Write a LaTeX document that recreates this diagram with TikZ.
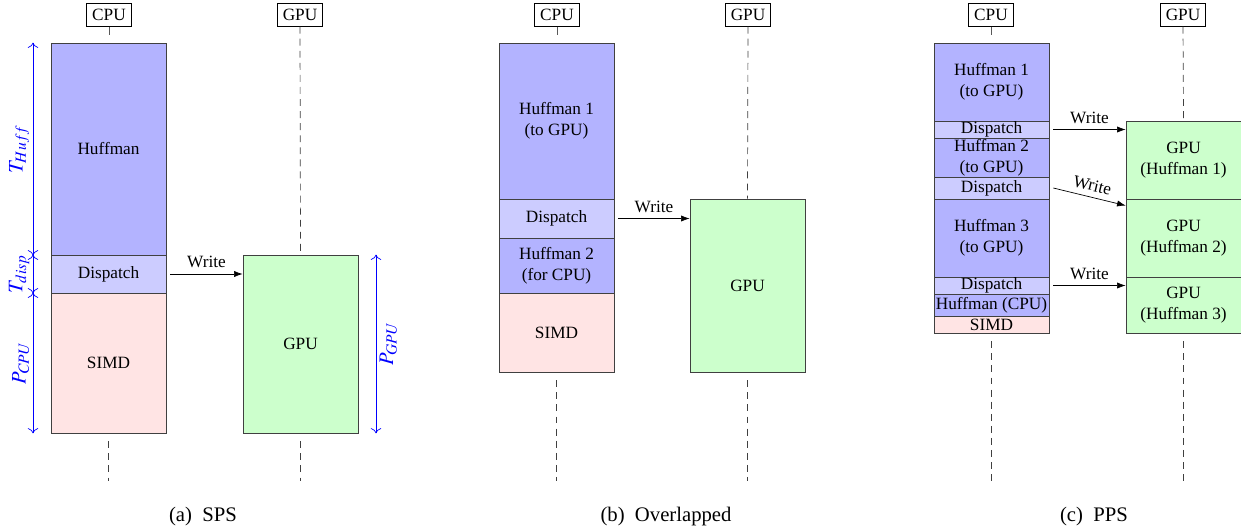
\documentclass[tikz,border=0pt]{standalone}
\usepackage{mathptmx}
\usepackage{fontspec}
\setmainfont{Liberation Serif}
\usepackage{tikz}
\usepackage{xcolor}
\usetikzlibrary{arrows.meta}

\definecolor{huffblue}{RGB}{179,179,255}
\definecolor{dispblue}{RGB}{204,204,255}
\definecolor{simdpink}{RGB}{255,228,228}
\definecolor{gpugreen}{RGB}{204,255,204}

\tikzset{
  hdr/.style={draw,inner sep=3.2pt},
  blk/.style={draw=black!75,minimum width=66.7pt,inner sep=0pt,align=center},
  hgt/.style={minimum height=#1*0.58pt},
  huff/.style={blk,fill=huffblue},
  disp/.style={blk,fill=dispblue},
  simd/.style={blk,fill=simdpink},
  gpu/.style={blk,fill=gpugreen},
  tick/.style={black!65},
  life/.style={black!75,dash pattern=on 4pt off 3pt},
  wr/.style={-{Latex[length=5pt,width=3.6pt]}},
  dim/.style={{To[length=3pt,width=6pt]}-{To[length=3pt,width=6pt]},blue},
  dimlbl/.style={midway,sloped,blue,font=\large,inner sep=2pt},
  capt/.style={font=\large}
}

\begin{document}
\begin{tikzpicture}[x=0.58pt,y=-0.58pt]
\useasboundingbox (0,0) rectangle (1241,531);

% (a) SPS
\node[hdr] (cpuA) at (109,15) {CPU};
\node[hdr] (gpuhA) at (300,15) {GPU};
\node[huff,hgt=212] (hufA) at (108.5,149) {Huffman};
\node[disp,hgt=38] (dispA) at (108.5,274) {Dispatch};
\node[simd,hgt=140] (simdA) at (108.5,363) {SIMD};
\node[gpu,hgt=178] (gpuA) at (300.5,344) {GPU};
\draw[tick] (cpuA.south) -- ++(0,8);
\draw[life] (simdA.south) ++(0,8) -- ++(0,40);
\draw[life] (gpuhA.south) -- (gpuA.north);
\draw[life] (gpuA.south) ++(0,8) -- ++(0,40);
\draw[wr] ([xshift=2.3pt]dispA.east) -- (dispA.east -| gpuA.west) node[midway,above] {Write};
\coordinate (dimL) at (33,0);
\coordinate (dimR) at (376,0);
\draw[dim] (dimL |- hufA.south) -- (dimL |- hufA.north) node[dimlbl,above] {$T_{Huff}$};
\draw[dim] (dimL |- dispA.south) -- (dimL |- dispA.north) node[dimlbl,above] {$T_{disp}$};
\draw[dim] (dimL |- simdA.south) -- (dimL |- simdA.north) node[dimlbl,above] {$P_{CPU}$};
\draw[dim] (dimR |- gpuA.south) -- (dimR |- gpuA.north) node[dimlbl,below] {$P_{GPU}$};
\node[capt] (capA) at (203,517) {(a)\enspace SPS};

% (b) Overlapped
\node[hdr] (cpuB) at (557,15) {CPU};
\node[hdr] (gpuhB) at (748,15) {GPU};
\node[huff,hgt=156] (hufB1) at (556.5,121) {Huffman 1\\(to GPU)};
\node[disp,hgt=39] (dispB) at (556.5,218.5) {Dispatch};
\node[huff,hgt=55] (hufB2) at (556.5,265.5) {Huffman 2\\(for CPU)};
\node[simd,hgt=79] (simdB) at (556.5,332.5) {SIMD};
\node[gpu,hgt=173] (gpuB) at (747.5,285.5) {GPU};
\draw[tick] (cpuB.south) -- ++(0,8);
\draw[life] (simdB.south) ++(0,8) -- (simdB.south |- 0,481);
\draw[life] (gpuhB.south) -- (gpuB.north);
\draw[life] (gpuB.south) ++(0,8) -- (gpuB.south |- 0,481);
\draw[wr] ([xshift=2.3pt]dispB.east) -- (dispB.east -| gpuB.west) node[midway,above] {Write};
\node[capt] (capB) at (666,517) {(b)\enspace Overlapped};

% (c) PPS
\node[hdr] (cpuC) at (991,15) {CPU};
\node[hdr] (gpuhC) at (1183,15) {GPU};
\node[huff,hgt=78] (hufC1) at (991.5,82) {Huffman 1\\(to GPU)};
\node[disp,hgt=17] (dispC1) at (991.5,129.5) {Dispatch};
\node[huff,hgt=39] (hufC2) at (991.5,157.5) {Huffman 2\\(to GPU)};
\node[disp,hgt=22] (dispC2) at (991.5,188) {Dispatch};
\node[huff,hgt=78] (hufC3) at (991.5,238) {Huffman 3\\(to GPU)};
\node[disp,hgt=17] (dispC3) at (991.5,285.5) {Dispatch};
\node[huff,hgt=22] (hufC4) at (991.5,305) {Huffman (CPU)};
\node[simd,hgt=17] (simdC) at (991.5,324.5) {SIMD};
\node[gpu,hgt=78] (gpuC1) at (1183.5,160) {GPU\\(Huffman 1)};
\node[gpu,hgt=78] (gpuC2) at (1183.5,238) {GPU\\(Huffman 2)};
\node[gpu,hgt=56] (gpuC3) at (1183.5,305) {GPU\\(Huffman 3)};
\draw[tick] (cpuC.south) -- ++(0,8);
\draw[life] (simdC.south) ++(0,8) -- (simdC.south |- 0,481);
\draw[life] (gpuhC.south) -- (gpuC1.north);
\draw[life] (gpuC3.south) ++(0,8) -- (gpuC3.south |- 0,481);
\draw[wr] ([xshift=2.3pt]dispC1.east) -- (dispC1.east -| gpuC1.west) node[midway,above] {Write};
\draw[wr] ([xshift=2.3pt]dispC2.east) -- ([yshift=-4pt]gpuC2.north west) node[midway,above,sloped] {Write};
\draw[wr] ([xshift=2.3pt]dispC3.east) -- (dispC3.east -| gpuC3.west) node[midway,above] {Write};
\node[capt] (capC) at (1094,517) {(c)\enspace PPS};
\end{tikzpicture}
\end{document}
